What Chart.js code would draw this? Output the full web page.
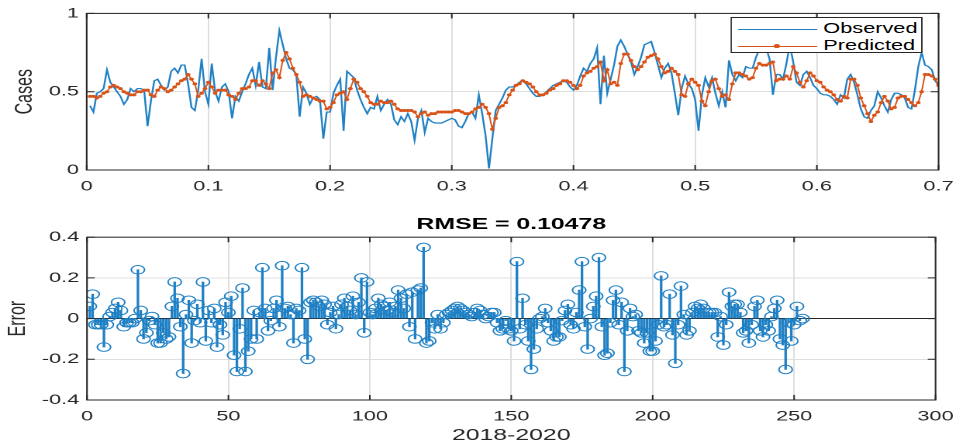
<!DOCTYPE html>
<html lang="en">
<head>
<meta charset="utf-8">
<title>Observed vs Predicted</title>
<script src="https://cdn.jsdelivr.net/npm/chart.js@4.4.1/dist/chart.umd.min.js"></script>
<style>
  html, body { margin: 0; padding: 0; background: #fff; overflow: hidden; }
  /* la figura original viene estirada en horizontal: se dibuja angosta y se estira igual */
  #lienzo { position: absolute; left: 0; top: 0; width: 623px; height: 445px;
            transform: scaleX(1.5506); transform-origin: 0 0; }
  #lienzo canvas { display: block; }
  #caja-casos { position: absolute; left: 0; top: 0; }
  #caja-error { position: absolute; left: 0; top: 200px; }
  #leyenda { position: absolute; left: 471px; top: 17px; width: 124px; height: 36px;
             box-sizing: border-box; border: 1px solid #262626; background: #fff;
             font: 14px 'Liberation Sans', Arial, sans-serif; color: #000; }
  .fila { position: absolute; left: 4px; height: 16px; line-height: 16px; white-space: nowrap; }
  .muestra { display: inline-block; position: relative; width: 51px; height: 0;
             vertical-align: middle; margin-right: 4px; }
  .muestra.azul { border-top: 1.3px solid #1f80c4; }
  .muestra.naranja { border-top: 1px solid #D95319; }
  .muestra.naranja::after { content: ""; position: absolute; left: 23px; top: -2.5px;
             width: 4px; height: 4px; border-radius: 50%; background: #D95319; }
</style>
</head>
<body>
<div id="lienzo">
  <div id="caja-casos"><canvas id="grafica-casos" width="623" height="200"></canvas></div>
  <div id="caja-error"><canvas id="grafica-error" width="623" height="245"></canvas></div>
  <div id="leyenda">
    <div class="fila" style="top:2px"><span class="muestra azul"></span>Observed</div>
    <div class="fila" style="top:19px"><span class="muestra naranja"></span>Predicted</div>
  </div>
</div>
<script>
// dia i se dibuja en x = i / 360 en la grafica de arriba
const DIAS_POR_UNIDAD = 360;

const observados = [
    0.41, 0.37, 0.49, 0.50, 0.52, 0.64, 0.56, 0.53, 0.50, 0.47,
    0.42, 0.45, 0.52, 0.50, 0.52, 0.52, 0.51, 0.28, 0.44, 0.57,
    0.58, 0.54, 0.51, 0.53, 0.63, 0.65, 0.62, 0.67, 0.67, 0.55,
    0.40, 0.38, 0.51, 0.71, 0.50, 0.42, 0.68, 0.50, 0.44, 0.53,
    0.55, 0.50, 0.33, 0.47, 0.44, 0.50, 0.55, 0.61, 0.65, 0.54,
    0.69, 0.53, 0.52, 0.78, 0.51, 0.72, 0.89, 0.80, 0.71, 0.65,
    0.64, 0.61, 0.34, 0.53, 0.49, 0.42, 0.46, 0.47, 0.45, 0.20,
    0.37, 0.37, 0.49, 0.54, 0.58, 0.25, 0.63, 0.61, 0.59, 0.51,
    0.45, 0.40, 0.36, 0.40, 0.39, 0.47, 0.38, 0.42, 0.45, 0.42,
    0.32, 0.29, 0.34, 0.31, 0.36, 0.31, 0.19, 0.33, 0.38, 0.24,
    0.33, 0.31, 0.30, 0.30, 0.30, 0.31, 0.32, 0.33, 0.32, 0.28,
    0.27, 0.31, 0.36, 0.37, 0.33, 0.48, 0.36, 0.22, 0.01, 0.20,
    0.38, 0.42, 0.46, 0.51, 0.53, 0.53, 0.54, 0.56, 0.57, 0.55,
    0.52, 0.49, 0.47, 0.47, 0.48, 0.50, 0.52, 0.54, 0.55, 0.56,
    0.57, 0.56, 0.53, 0.51, 0.54, 0.60, 0.65, 0.63, 0.68, 0.71,
    0.78, 0.42, 0.73, 0.49, 0.58, 0.67, 0.79, 0.83, 0.79, 0.74,
    0.69, 0.61, 0.66, 0.72, 0.80, 0.81, 0.82, 0.75, 0.67, 0.59,
    0.65, 0.68, 0.62, 0.49, 0.35, 0.52, 0.60, 0.55, 0.52, 0.45,
    0.25, 0.48, 0.59, 0.53, 0.59, 0.49, 0.41, 0.50, 0.40, 0.70,
    0.61, 0.57, 0.61, 0.59, 0.66, 0.65, 0.65, 0.72, 0.77, 0.77,
    0.78, 0.71, 0.48, 0.61, 0.61, 0.58, 0.68, 0.80, 0.69, 0.56,
    0.54, 0.61, 0.63, 0.59, 0.54, 0.52, 0.49, 0.48, 0.48, 0.47,
    0.45, 0.42, 0.48, 0.46, 0.58, 0.61, 0.56, 0.48, 0.39, 0.34,
    0.33, 0.38, 0.41, 0.50, 0.46, 0.41, 0.37, 0.45, 0.49, 0.49,
    0.48, 0.46, 0.40, 0.39, 0.51, 0.66, 0.75, 0.67, 0.66, 0.64,
    0.57, 0.54, 0.54
];

const predichos = [
    0.47, 0.47, 0.46, 0.47, 0.49, 0.50, 0.53, 0.54, 0.53, 0.52,
    0.50, 0.49, 0.48, 0.48, 0.50, 0.50, 0.51, 0.51, 0.48, 0.47,
    0.51, 0.53, 0.52, 0.50, 0.51, 0.53, 0.55, 0.57, 0.58, 0.61,
    0.58, 0.55, 0.47, 0.49, 0.52, 0.56, 0.53, 0.49, 0.51, 0.51,
    0.51, 0.48, 0.47, 0.45, 0.49, 0.52, 0.52, 0.53, 0.57, 0.57,
    0.54, 0.57, 0.55, 0.52, 0.62, 0.64, 0.59, 0.70, 0.75, 0.71,
    0.65, 0.61, 0.56, 0.47, 0.48, 0.47, 0.46, 0.45, 0.44, 0.44,
    0.39, 0.40, 0.43, 0.48, 0.49, 0.50, 0.45, 0.52, 0.58, 0.56,
    0.52, 0.50, 0.47, 0.43, 0.42, 0.42, 0.44, 0.43, 0.43, 0.44,
    0.42, 0.39, 0.38, 0.38, 0.38, 0.38, 0.37, 0.34, 0.36, 0.37,
    0.35, 0.36, 0.36, 0.37, 0.37, 0.37, 0.37, 0.37, 0.38, 0.38,
    0.37, 0.36, 0.36, 0.37, 0.39, 0.40, 0.42, 0.40, 0.36, 0.26,
    0.33, 0.40, 0.41, 0.43, 0.48, 0.51, 0.54, 0.55, 0.57, 0.56,
    0.55, 0.53, 0.50, 0.48, 0.48, 0.49, 0.51, 0.52, 0.54, 0.55,
    0.57, 0.57, 0.56, 0.54, 0.52, 0.54, 0.60, 0.62, 0.63, 0.65,
    0.66, 0.69, 0.57, 0.64, 0.55, 0.56, 0.54, 0.68, 0.74, 0.74,
    0.70, 0.66, 0.64, 0.66, 0.69, 0.72, 0.73, 0.74, 0.71, 0.66,
    0.62, 0.63, 0.65, 0.63, 0.61, 0.48, 0.47, 0.55, 0.58, 0.56,
    0.54, 0.44, 0.41, 0.50, 0.57, 0.58, 0.52, 0.47, 0.48, 0.45,
    0.55, 0.62, 0.62, 0.61, 0.60, 0.58, 0.59, 0.65, 0.68, 0.67,
    0.67, 0.68, 0.69, 0.57, 0.58, 0.58, 0.60, 0.58, 0.66, 0.62,
    0.56, 0.53, 0.57, 0.62, 0.60, 0.57, 0.56, 0.53, 0.51, 0.50,
    0.48, 0.45, 0.44, 0.47, 0.46, 0.58, 0.58, 0.54, 0.46, 0.41,
    0.36, 0.31, 0.35, 0.37, 0.43, 0.47, 0.44, 0.39, 0.40, 0.46,
    0.47, 0.47, 0.45, 0.43, 0.41, 0.43, 0.50, 0.61, 0.61, 0.60,
    0.58, 0.54, 0.53
];

const errores = [
    0.06, 0.12, -0.03, -0.03, -0.03, -0.14, -0.03, 0.01, 0.03, 0.05,
    0.08, 0.04, -0.04, -0.02, -0.02, -0.02, 0.00, 0.24, 0.04, -0.10,
    -0.07, -0.01, 0.01, -0.03, -0.12, -0.12, -0.07, -0.10, -0.09, 0.06,
    0.18, 0.10, -0.04, -0.27, 0.02, 0.09, -0.12, -0.01, 0.07, -0.02,
    0.18, -0.11, 0.04, -0.02, 0.05, -0.14, -0.03, -0.08, 0.08, 0.03,
    0.11, -0.18, -0.26, -0.05, 0.15, -0.26, -0.16, -0.10, 0.04, -0.10,
    0.03, 0.25, 0.05, -0.06, -0.01, 0.05, 0.09, -0.04, 0.26, 0.05,
    0.06, 0.02, -0.12, 0.05, 0.04, 0.25, -0.10, -0.20, 0.08, 0.09,
    0.08, 0.06, 0.09, 0.07, -0.03, 0.03, 0.06, -0.05, 0.02, 0.07,
    0.10, 0.06, 0.04, 0.11, 0.02, 0.08, 0.20, -0.07, 0.18, 0.03,
    0.02, 0.05, 0.10, 0.07, 0.06, 0.04, 0.08, 0.03, 0.06, 0.14,
    0.10, 0.05, 0.12, -0.04, 0.13, -0.10, 0.14, 0.15, 0.35, -0.12,
    -0.11, -0.02, -0.05, 0.02, -0.05, -0.02, 0.02, 0.03, 0.04, 0.05,
    0.06, 0.05, 0.04, 0.03, 0.02, 0.01, 0.03, 0.05, 0.04, 0.02,
    0.00, 0.01, 0.03, 0.03, -0.02, -0.06, -0.05, -0.01, -0.05, -0.06,
    -0.11, 0.28, -0.05, 0.10, -0.03, -0.11, -0.25, -0.15, -0.05, 0.00,
    0.01, 0.05, -0.02, -0.06, -0.11, -0.09, -0.09, -0.01, 0.04, 0.07,
    -0.03, -0.05, 0.03, 0.14, 0.28, -0.04, -0.15, 0.00, 0.06, 0.11,
    0.30, -0.04, -0.18, -0.17, -0.02, 0.09, 0.14, -0.03, 0.08, -0.26,
    -0.06, 0.05, 0.01, 0.02, -0.06, -0.07, -0.12, -0.07, -0.16, -0.16,
    -0.11, -0.03, 0.21, -0.04, -0.03, 0.12, -0.08, -0.22, -0.03, 0.16,
    0.02, -0.08, -0.06, 0.03, 0.06, 0.05, 0.07, 0.05, 0.03, 0.03,
    0.03, 0.03, -0.09, 0.01, -0.13, -0.03, 0.13, 0.06, 0.07, 0.07,
    0.03, -0.07, -0.06, -0.12, -0.03, 0.06, 0.09, -0.06, -0.09, -0.03,
    -0.06, 0.01, 0.05, 0.09, -0.10, -0.13, -0.25, -0.02, -0.11, -0.03,
    0.06, -0.01, 0.00
];

const ticksTiempo = [0, 0.1, 0.2, 0.3, 0.4, 0.5, 0.6, 0.7];
const ticksCasos = [0, 0.5, 1];
const ticksDias = [0, 50, 100, 150, 200, 250, 300];
const ticksError = [-0.4, -0.2, 0, 0.2, 0.4];

const AZUL = '#1f80c4';
const NARANJA = '#D95319';
const REJILLA = '#dedede';
const TINTA = '#262626';

Chart.defaults.font.family = "'Liberation Sans', Arial, Helvetica, sans-serif";
Chart.defaults.color = TINTA;

const fijarTicks = (lista) => (escala) => {
    escala.ticks = lista.map((v) => ({ value: v }));
};

// etiquetas como las escribe MATLAB: 1 y no 1.0
const textoTick = (v) => String(v);

// caja de ejes con marcas hacia adentro, como en MATLAB
const marcoMatlab = {
    id: 'marcoMatlab',
    afterDraw(chart) {
        const { ctx, chartArea: a, scales } = chart;
        ctx.save();
        ctx.strokeStyle = TINTA;
        ctx.lineWidth = 1;
        ctx.strokeRect(a.left, a.top, a.right - a.left, a.bottom - a.top);
        ctx.beginPath();
        scales.x.ticks.forEach((t) => {
            const px = scales.x.getPixelForValue(t.value);
            ctx.moveTo(px, a.bottom);
            ctx.lineTo(px, a.bottom - 5);
            ctx.moveTo(px, a.top);
            ctx.lineTo(px, a.top + 5);
        });
        scales.y.ticks.forEach((t) => {
            const py = scales.y.getPixelForValue(t.value);
            ctx.moveTo(a.left, py);
            ctx.lineTo(a.left + 5, py);
            ctx.moveTo(a.right, py);
            ctx.lineTo(a.right - 5, py);
        });
        ctx.stroke();
        ctx.restore();
    }
};

const fuenteTicks = { size: 14 };
const fuenteTitulo = { size: 16 };

// ---- grafica de arriba: observados vs predichos ----
const puntosObs = observados.map((v, k) => ({ x: (k + 1) / DIAS_POR_UNIDAD, y: v }));
const puntosPred = predichos.map((v, k) => ({ x: (k + 1) / DIAS_POR_UNIDAD, y: v }));

new Chart(document.getElementById('grafica-casos'), {
    type: 'line',
    data: {
        datasets: [{
            label: 'Observed',
            data: puntosObs,
            borderColor: AZUL,
            borderWidth: 1.2,
            pointRadius: 0,
            order: 1,
        }, {
            label: 'Predicted',
            data: puntosPred,
            borderColor: NARANJA,
            backgroundColor: NARANJA,
            borderWidth: 1,
            pointRadius: 1.5,
            pointBorderWidth: 0,
            order: 0,
        }],
    },
    options: {
        responsive: false,
        animation: false,
        devicePixelRatio: 2,
        layout: { autoPadding: false, padding: { top: 9, right: 13.6, left: 0, bottom: 0 } },
        plugins: { legend: { display: false }, tooltip: { enabled: false } },
        scales: {
            x: {
                type: 'linear', min: 0, max: 0.7,
                afterBuildTicks: fijarTicks(ticksTiempo),
                afterFit: (e) => { e.height = 30; },
                grid: { color: REJILLA, drawTicks: false },
                border: { display: false },
                ticks: { padding: 8, font: fuenteTicks, maxRotation: 0, autoSkip: false, callback: textoTick },
            },
            y: {
                min: 0, max: 1,
                afterBuildTicks: fijarTicks(ticksCasos),
                afterFit: (e) => { e.width = 55.9; },
                grid: { color: REJILLA, drawTicks: false },
                border: { display: false },
                ticks: { padding: 5, font: fuenteTicks, callback: textoTick },
                title: { display: true, text: 'Cases', font: fuenteTitulo, padding: { top: 6.5, bottom: 0 } },
            },
        },
    },
    plugins: [marcoMatlab],
});

// ---- grafica de abajo: errores como tallos ----
const puntosError = errores.map((v, k) => ({ x: k + 1, y: v }));

new Chart(document.getElementById('grafica-error'), {
    type: 'bar',
    data: {
        datasets: [{
            type: 'bar',
            data: puntosError,
            backgroundColor: AZUL,
            barThickness: 1,
            order: 1,
        }, {
            type: 'line',
            data: puntosError,
            showLine: false,
            pointStyle: 'circle',
            pointRadius: 4.3,
            pointBorderWidth: 1,
            pointBorderColor: AZUL,
            pointBackgroundColor: 'rgba(0,0,0,0)',
            order: 0,
        }],
    },
    options: {
        responsive: false,
        animation: false,
        devicePixelRatio: 2,
        layout: { autoPadding: false, padding: { top: 0, right: 14.2, left: 0, bottom: 0 } },
        plugins: {
            legend: { display: false },
            tooltip: { enabled: false },
            title: {
                display: true,
                text: 'RMSE = 0.10478',
                color: '#000',
                fullSize: false,
                font: { size: 16, weight: 'bold' },
                padding: { top: 15, bottom: 3 },
            },
        },
        scales: {
            x: {
                type: 'linear', min: 0, max: 300,
                offset: false,
                afterBuildTicks: fijarTicks(ticksDias),
                afterFit: (e) => { e.height = 45; },
                grid: { color: REJILLA, drawTicks: false, offset: false },
                border: { display: false },
                ticks: { padding: 8, font: fuenteTicks, maxRotation: 0, autoSkip: false, callback: textoTick },
                title: { display: true, text: '2018-2020', font: fuenteTitulo, padding: { top: 0, bottom: 0 } },
            },
            y: {
                min: -0.4, max: 0.4,
                afterBuildTicks: fijarTicks(ticksError),
                afterFit: (e) => { e.width = 56.1; },
                grid: {
                    color: (c) => (c.tick && c.tick.value === 0 ? TINTA : REJILLA),
                    drawTicks: false,
                },
                border: { display: false },
                ticks: { padding: 5, font: fuenteTicks, callback: textoTick },
                title: { display: true, text: 'Error', font: fuenteTitulo, padding: { top: 2, bottom: 0 } },
            },
        },
    },
    plugins: [marcoMatlab],
});
</script>
</body>
</html>
